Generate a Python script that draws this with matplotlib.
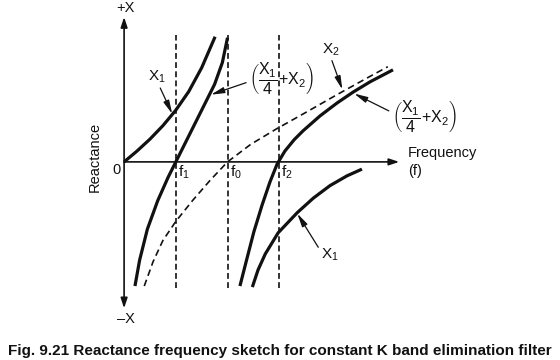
import matplotlib.pyplot as plt

plt.rcParams['font.family'] = ['Liberation Sans', 'DejaVu Sans']
plt.rcParams['mathtext.fontset'] = 'custom'
plt.rcParams['mathtext.rm'] = 'Liberation Sans'
plt.rcParams['mathtext.it'] = 'Liberation Sans'
plt.rcParams['mathtext.default'] = 'regular'

# marker frequencies (f1, f0, f2)
f_marks = [1.0, 2.0, 3.0]
f_names = ['$f_1$', '$f_0$', '$f_2$']

# X1 first branch (0 -> +inf near f0)
x1a_f = [0, 0.25, 0.5, 0.75, 1.0, 1.25, 1.5, 1.76]
x1a_x = [0, 0.21, 0.44, 0.70, 1.0, 1.36, 1.82, 2.42]

# X1 second branch (-inf -> 0 after f0)
x1b_f = [2.48, 2.59, 2.73, 2.98, 3.35, 3.66, 3.98, 4.31, 4.60]
x1b_x = [-2.42, -2.09, -1.78, -1.37, -0.98, -0.70, -0.46, -0.27, -0.14]

# X2 (dashed)
x2_f = [0.39, 0.56, 0.75, 1.0, 1.33, 1.66, 2.0, 2.45, 2.95, 3.45, 4.1, 4.75, 5.1]
x2_x = [-2.4, -1.93, -1.52, -1.15, -0.74, -0.36, 0, 0.34, 0.64, 0.92, 1.29, 1.65, 1.84]

# X1/4 + X2, two branches
sa_f = [0.21, 0.3, 0.45, 0.65, 0.85, 1.0, 1.25, 1.5, 1.75, 1.9, 2.0]
sa_x = [-2.4, -1.9, -1.3, -0.75, -0.3, 0, 0.5, 1.0, 1.5, 1.92, 2.4]
sb_f = [2.24, 2.36, 2.51, 2.67, 2.82, 2.96, 3.11, 3.29, 3.46, 3.79, 4.12, 4.43, 4.76, 5.2]
sb_x = [-2.4, -1.93, -1.35, -0.83, -0.39, -0.04, 0.21, 0.43, 0.60, 0.89, 1.14, 1.35, 1.55, 1.78]

ink = '#111111'
fig = plt.figure(figsize=(5.6, 3.6), dpi=100)
ax = fig.add_axes([0, 0, 1, 1])
ax.set_xlim(-2.4, 8.43)
ax.set_ylim(-3.83, 3.13)
ax.axis('off')

# axes with arrows
axarrow = dict(arrowstyle='-|>,head_length=0.6,head_width=0.2', color=ink, lw=1.2,
               mutation_scale=10, shrinkA=0, shrinkB=0)
ax.annotate('', xy=(0, 2.8), xytext=(0, 0), arrowprops=axarrow)
ax.annotate('', xy=(0, -2.83), xytext=(0, 0), arrowprops=axarrow)
ax.annotate('', xy=(5.32, 0), xytext=(0, 0), arrowprops=axarrow)

# vertical dashed lines
for f in f_marks:
    ax.plot([f, f], [-2.44, 2.46], color=ink, lw=1.2, ls=(0, (3.5, 2)))

ax.plot(x1a_f, x1a_x, color=ink, lw=2.3, solid_capstyle='butt')
ax.plot(x1b_f, x1b_x, color=ink, lw=2.3, solid_capstyle='butt')
ax.plot(sa_f, sa_x, color=ink, lw=2.3, solid_capstyle='butt')
ax.plot(sb_f, sb_x, color=ink, lw=2.3, solid_capstyle='butt')
ax.plot(x2_f, x2_x, color=ink, lw=1.2, ls=(0, (4, 2.5)))

fs = 10.5
ax.text(0.02, 2.98, '+X', ha='center', va='center', fontsize=fs, color=ink)
ax.text(0.04, -3.04, '–X', ha='center', va='center', fontsize=fs, color=ink)
ax.text(-0.14, -0.15, '0', ha='center', va='center', fontsize=fs, color=ink)
for f, name in zip(f_marks, f_names):
    ax.text(f + 0.04, -0.2, name, ha='left', va='center', fontsize=fs + 0.5, color=ink)
ax.text(-0.56, 0.1, 'Reactance', rotation=90, ha='center', va='center', fontsize=fs, color=ink)
ax.text(5.49, 0.17, 'Frequency', ha='left', va='center', fontsize=fs, color=ink)
ax.text(5.49, -0.17, '(f)', ha='left', va='center', fontsize=fs, color=ink)

# curve labels
lab_arrow = dict(arrowstyle='-|>,head_length=0.8,head_width=0.18', color=ink, lw=0.9,
                 mutation_scale=10, shrinkA=0, shrinkB=0)
sum_label = r'$\left(\dfrac{X_1}{4}\!+\!X_2\right)$'
ax.annotate('$X_1$', xy=(0.93, 0.93), xytext=(0.64, 1.64), ha='center', va='center',
            fontsize=fs + 0.5, color=ink,
            arrowprops=dict(lab_arrow, relpos=(0.6, 0.0)))
ax.annotate(sum_label, xy=(1.68, 1.3), xytext=(3.04, 1.62), ha='center', va='center',
            fontsize=11.5, color=ink, arrowprops=dict(lab_arrow, relpos=(0.0, 0.4)))
ax.annotate('$X_2$', xy=(4.22, 1.4), xytext=(4.0, 2.17), ha='center', va='center',
            fontsize=fs + 0.5, color=ink, arrowprops=dict(lab_arrow, relpos=(0.5, 0.0)))
ax.annotate(sum_label, xy=(4.45, 1.32), xytext=(5.8, 0.89), ha='center', va='center',
            fontsize=11.5, color=ink, arrowprops=dict(lab_arrow, relpos=(0.0, 0.6)))
ax.annotate('$X_1$', xy=(3.35, -1.0), xytext=(3.98, -1.8), ha='center', va='center',
            fontsize=fs + 0.5, color=ink, arrowprops=dict(lab_arrow, relpos=(0.0, 0.7)))

fig.text(0.5, 0.025, 'Fig. 9.21 Reactance frequency sketch for constant K band elimination filter',
         ha='center', va='center', fontsize=11.0, fontweight='bold', color=ink)

fig.savefig('out.png', dpi=100)
